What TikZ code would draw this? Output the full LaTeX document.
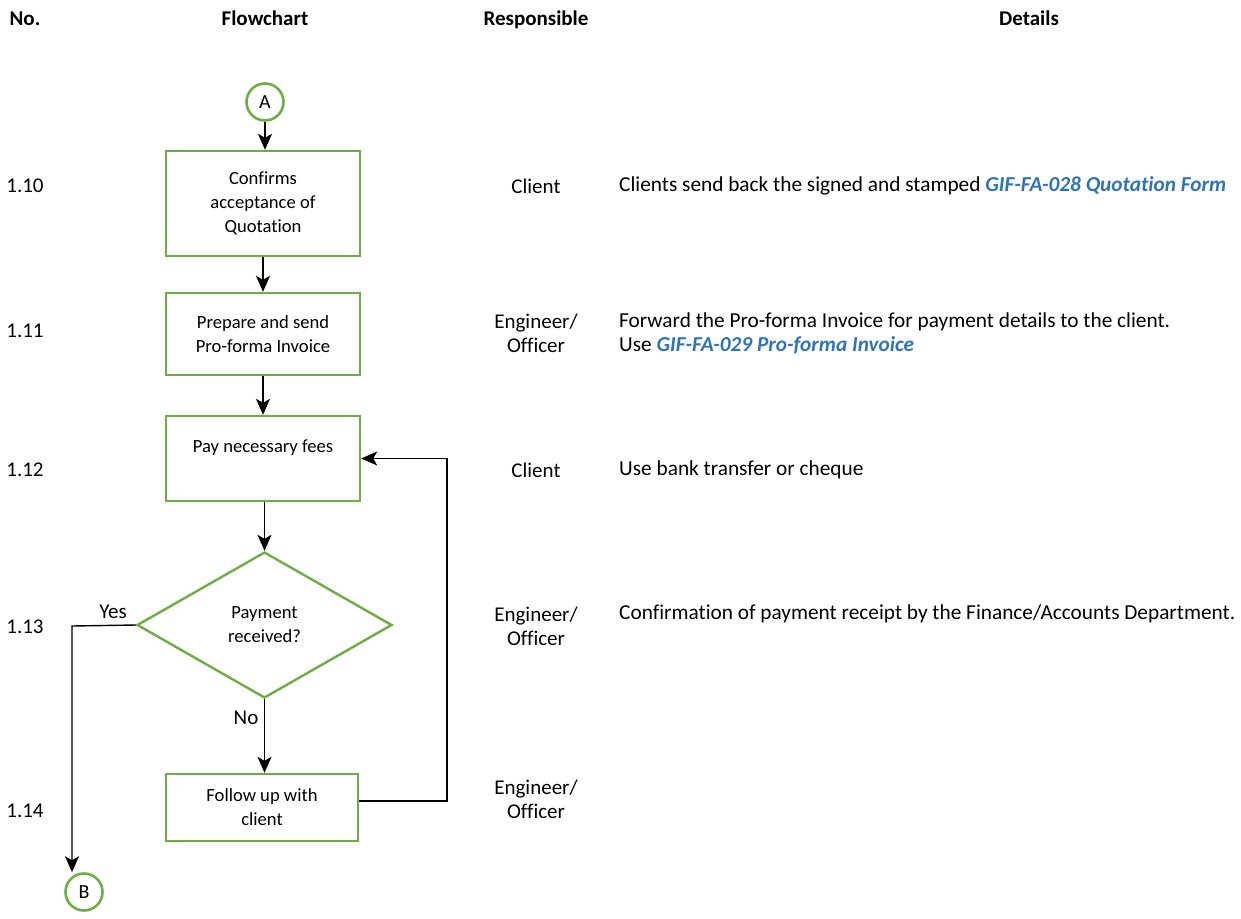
\documentclass[tikz,border=0pt]{standalone}
\usepackage{fontspec}
\setmainfont{Carlito}[Ligatures=NoCommon,RawFeature={-calt;-liga;-clig}]
\usetikzlibrary{shapes.geometric,arrows.meta}
\definecolor{grn}{HTML}{70AD47}
\definecolor{lnk}{HTML}{2E75B6}
\begin{document}
\begin{tikzpicture}[x=1pt,y=-1pt,
  box/.style={draw=grn,line width=2.4pt,minimum width=194pt,align=center,inner sep=0pt,font=\fontsize{18.6}{24}\selectfont},
  conn/.style={draw=grn,line width=2.6pt,circle,minimum size=37pt,inner sep=0pt,font=\fontsize{20}{24}\selectfont},
  dec/.style={diamond,draw=grn,line width=2.4pt,minimum width=255pt,minimum height=146pt,inner sep=0pt,align=center,font=\fontsize{18.6}{24}\selectfont},
  arr/.style={line width=1.4pt,-{Stealth[length=16pt,width=14pt,inset=4pt]}},
  hdr/.style={font=\bfseries\fontsize{21}{24}\selectfont,anchor=base},
  txt/.style={font=\fontsize{21}{24}\selectfont,align=center},
  det/.style={font=\fontsize{21.3}{24}\selectfont,align=left,anchor=west,inner sep=0pt},
  lbl/.style={font=\fontsize{21}{24}\selectfont}]
\useasboundingbox (0,0) rectangle (1241,918);
% headers
\node[hdr] (h1) at (25,25) {No.};
\node[hdr] (h2) at (265,25) {Flowchart};
\node[hdr] (h3) at (536,25) {Responsible};
\node[hdr] (h4) at (1029,25) {Details};
% numbers
\node[txt] (n10) at (25,186) {1.10};
\node[txt] (n11) at (25,331) {1.11};
\node[txt] (n12) at (25,470) {1.12};
\node[txt] (n13) at (25,627) {1.13};
\node[txt] (n14) at (25,811) {1.14};
% flowchart
\node[conn] (A) at (265,102) {A};
\node[box,minimum height=105pt] (b1) at (263,203.5) {Confirms\\acceptance of\\Quotation};
\node[box,minimum height=82pt] (b2) at (263,334) {Prepare and send\\Pro-forma Invoice};
\node[box,minimum height=85pt] (b3) at (263,458.5) {};
\node[font=\fontsize{18.6}{24}\selectfont] (b3t) at (263,448) {Pay necessary fees};
\node[dec] (d) at (264.5,625) {Payment\\received?};
\node[box,minimum width=192pt,minimum height=67pt] (b5) at (262,807.5) {Follow up with\\client};
\node[conn] (B) at (84,892) {B};
\draw[arr] (A) -- (A.south |- b1.north);
\draw[arr] (b1) -- (b2);
\draw[arr] (b2) -- (b3);
\draw[arr] (b3.south -| d.north) -- (d.north);
\draw[arr] (d.south) -- (d.south |- b5.north);
\node[lbl] (no) at (246,718) {No};
\coordinate (yc) at (72,626);
\draw[arr] (d.west) -- (yc) -- (yc |- B.north);
\node[lbl] (yes) at (113,612) {Yes};
\coordinate (lp) at (447,801);
\draw[arr] (b5.east |- lp) -- (lp) -- (lp |- b3.east) -- (b3.east);
% responsible
\node[txt] (r10) at (536,186) {Client};
\node[txt] (r11) at (536,333) {Engineer/\\Officer};
\node[txt] (r12) at (536,470) {Client};
\node[txt] (r13) at (536,626) {Engineer/\\Officer};
\node[txt] (r14) at (536,799) {Engineer/\\Officer};
% details
\node[det] (d10) at (619,186) {Clients send back the signed and stamped \textcolor{lnk}{\bfseries\itshape GIF-FA-028 Quotation Form}};
\node[det] (d11) at (619,333) {Forward the Pro-forma Invoice for payment details to the client.\\Use \textcolor{lnk}{\bfseries\itshape GIF-FA-029 Pro-forma Invoice}};
\node[det] (d12) at (619,470) {Use bank transfer or cheque};
\node[det] (d13) at (619,614) {Confirmation of payment receipt by the Finance/Accounts Department.};
\end{tikzpicture}
\end{document}
